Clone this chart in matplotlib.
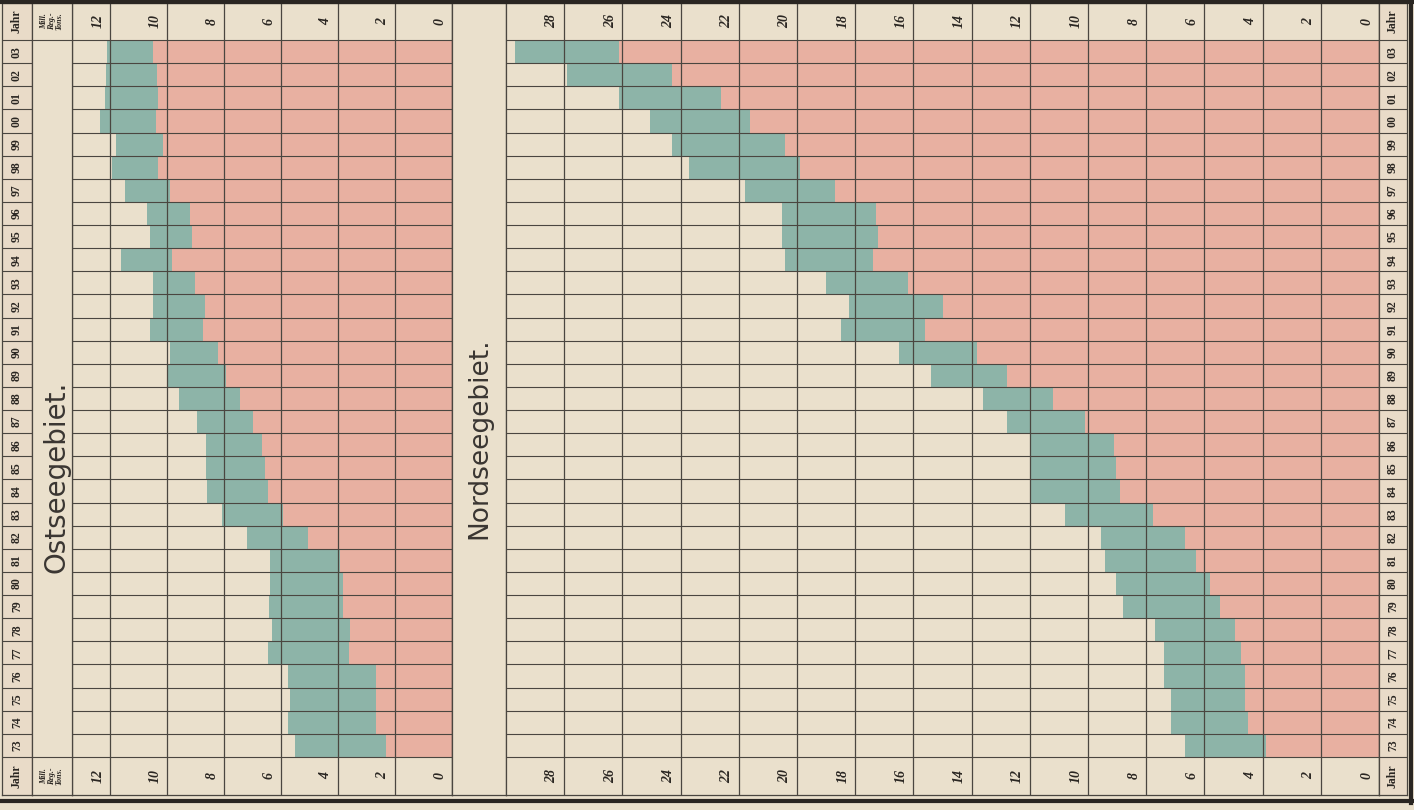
import matplotlib
matplotlib.use('Agg')
import matplotlib.pyplot as plt
from matplotlib.lines import Line2D
import numpy as np

# years 1873 .. 1903
years = np.arange(1873, 1904)
year_labels = ['%02d' % (y % 100) for y in years]

# Ostseegebiet (Mill. Reg.-Tons)
ost_pink = [2.32, 2.67, 2.67, 2.67, 3.61, 3.58, 3.82, 3.82, 3.93, 5.05,
            5.93, 6.46, 6.56, 6.67, 6.98, 7.44, 7.93, 8.2, 8.74, 8.67,
            9.02, 9.82, 9.12, 9.19, 9.9, 10.3, 10.14, 10.4, 10.3, 10.35, 10.5]
ost_total = [5.5, 5.75, 5.68, 5.75, 6.46, 6.32, 6.42, 6.39, 6.39, 7.19,
             8.07, 8.6, 8.63, 8.63, 8.95, 9.58, 10.0, 9.9, 10.6, 10.5,
             10.5, 11.6, 10.6, 10.7, 11.47, 11.93, 11.79, 12.35, 12.17, 12.14, 12.1]

# Nordseegebiet (Mill. Reg.-Tons)
nord_pink = [3.9, 4.5, 4.6, 4.6, 4.75, 4.95, 5.45, 5.8, 6.3, 6.65,
             7.75, 8.9, 9.05, 9.1, 10.1, 11.2, 12.8, 13.8, 15.6, 15.0,
             16.2, 17.4, 17.2, 17.3, 18.7, 19.9, 20.4, 21.6, 22.6, 24.3, 26.1]
nord_total = [6.65, 7.15, 7.15, 7.4, 7.4, 7.7, 8.8, 9.05, 9.4, 9.55,
              10.8, 12.0, 12.0, 12.0, 12.8, 13.6, 15.4, 16.5, 18.5, 18.2,
              19.0, 20.4, 20.5, 20.5, 21.8, 23.7, 24.3, 25.05, 26.1, 27.9, 29.7]

ost_ticks = [0, 2, 4, 6, 8, 10, 12]
nord_ticks = list(range(0, 30, 2))

bg = '#eae0cc'
pink = '#e8b0a1'
teal = '#8db4a8'
line_c = '#4a4640'
text_c = '#2a2622'

W, H = 1414, 810
fig = plt.figure(figsize=(W / 100, H / 100), dpi=100)
fig.patch.set_facecolor(bg)

row_top, row_bot = 40, 757
head_top, head_bot = 3, 795
row_h = (row_bot - row_top) / len(years)
y_lo = years[0] - 0.5 - (head_bot - row_bot) / row_h
y_hi = years[-1] + 0.5 + (row_top - head_top) / row_h
y_top_head = (years[-1] + 0.5 + y_hi) / 2
y_bot_head = (years[0] - 0.5 + y_lo) / 2


def px_axes(x0, x1):
    ax = fig.add_axes([x0 / W, 1 - head_bot / H, (x1 - x0) / W,
                       (head_bot - head_top) / H])
    ax.set_facecolor(bg)
    ax.set_ylim(y_lo, y_hi)
    ax.set_xticks([])
    ax.set_yticks([])
    for s in ax.spines.values():
        s.set_color(line_c)
        s.set_linewidth(0.9)
    return ax


def panel(x0, x1, xmax, pinks, totals, ticks):
    ax = px_axes(x0, x1)
    ax.set_xlim(xmax, 0)
    ax.barh(years, pinks, height=1.0, color=pink, linewidth=0)
    ax.barh(years, np.array(totals) - np.array(pinks), left=pinks,
            height=1.0, color=teal, linewidth=0)
    ax.vlines(ticks, y_lo, y_hi, color=line_c, linewidth=0.9)
    ax.hlines(np.arange(years[0] - 0.5, years[-1] + 1.5), xmax, 0,
              color=line_c, linewidth=0.8)
    for t in ticks:
        for yy in (y_top_head, y_bot_head):
            ax.text(t + 0.42, yy, str(t), rotation=90, ha='center',
                    va='center', fontsize=10, fontweight='bold',
                    style='italic', family='Liberation Serif', color=text_c)
    return ax


def year_col(x0, x1):
    ax = px_axes(x0, x1)
    ax.set_xlim(0, 1)
    ax.set_facecolor('#e9dbc8')
    ax.hlines(np.arange(years[0] - 0.5, years[-1] + 1.5), 0, 1,
              color=line_c, linewidth=0.8)
    for y, lab in zip(years, year_labels):
        ax.text(0.5, y, lab, rotation=90, ha='center', va='center',
                fontsize=8.5, fontweight='bold', family='Liberation Serif',
                color=text_c)
    for yy in (y_top_head, y_bot_head):
        ax.text(0.5, yy, 'Jahr', rotation=90, ha='center', va='center',
                fontsize=8.5, fontweight='bold', family='Liberation Serif',
                color=text_c)
    return ax


# left panel: Ostsee
ax_ost = panel(72, 452, 13.33, ost_pink, ost_total, ost_ticks)
year_col(2, 32)
ax_m = px_axes(32, 72)
ax_m.set_xlim(0, 1)
ax_m.hlines([years[0] - 0.5, years[-1] + 0.5], 0, 1, color=line_c, linewidth=0.8)
for yy in (y_top_head, y_bot_head):
    ax_m.text(0.5, yy, 'Mill.\nReg.-\nTons.', rotation=90, ha='center',
              va='center', fontsize=5.8, fontweight='bold', style='italic',
              family='Liberation Serif', color=text_c, linespacing=0.9)
ax_m.text(0.62, 1884.6, 'Ostseegebiet.', rotation=90, ha='center', va='center',
          fontsize=20, family='DejaVu Sans', color='#3a3632')

# gap column with title of the right panel
ax_g = px_axes(452, 506)
ax_g.set_xlim(0, 1)
ax_g.text(0.5, 1886.3, 'Nordseegebiet.', rotation=90, ha='center', va='center',
          fontsize=19, family='DejaVu Sans', color='#3a3632')

# right panel: Nordsee
ax_nord = panel(506, 1379, 30, nord_pink, nord_total, nord_ticks)
year_col(1379, 1407)

# outer frame
fig.add_artist(Line2D([0, 1], [1 - 1.5 / H, 1 - 1.5 / H], transform=fig.transFigure,
                      color='#2a2622', linewidth=3))
fig.add_artist(Line2D([0, 1], [1 - 801 / H, 1 - 801 / H], transform=fig.transFigure,
                      color='#2a2622', linewidth=3))
fig.add_artist(Line2D([1410.5 / W, 1410.5 / W], [1 - 803 / H, 1], transform=fig.transFigure,
                      color='#2a2622', linewidth=3))

fig.savefig('out.png', dpi=100, facecolor=bg)
